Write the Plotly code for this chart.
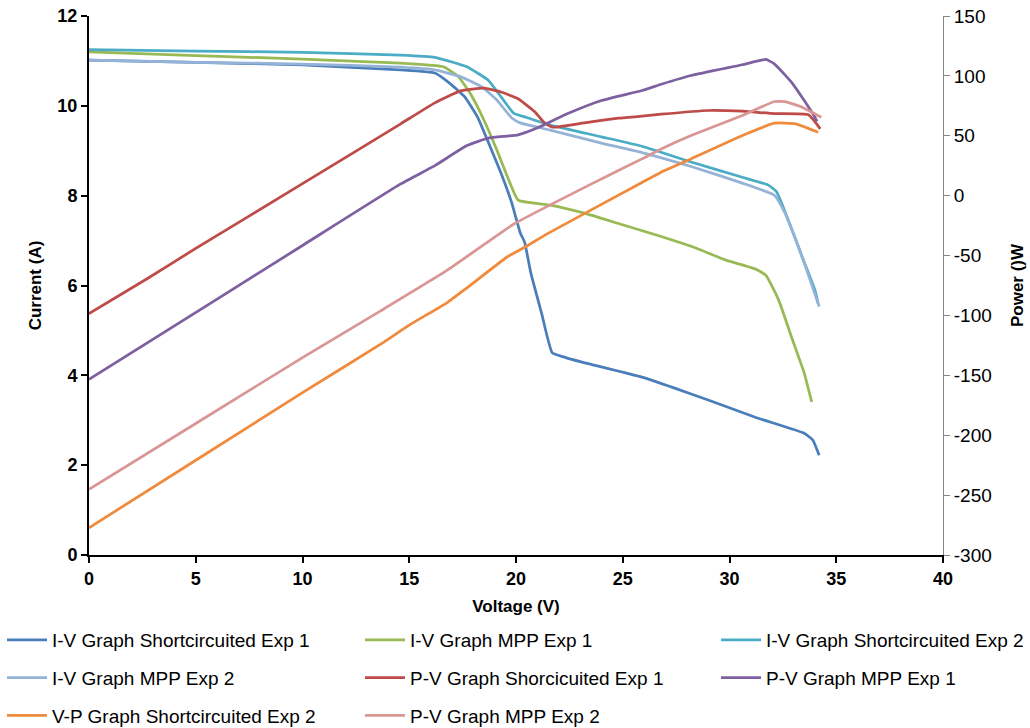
import plotly.graph_objects as go

# ---------------- data ----------------
# I-V Graph Shortcircuited Exp 1
v_iv_sc1 = [0, 5, 10, 14.6, 16.2, 16.9, 17.6, 18.2, 18.8, 19.3, 19.8, 20.2, 20.4, 20.7,
            21.2, 21.7, 22.3, 23.05, 25.9, 27.4, 29.0, 31.3, 33.5, 33.9, 34.2]
i_iv_sc1 = [11.02, 10.97, 10.91, 10.80, 10.73, 10.5, 10.2, 9.75, 9.08, 8.5, 7.84, 7.17, 6.97, 6.27,
            5.38, 4.50, 4.40, 4.30, 3.96, 3.72, 3.45, 3.05, 2.71, 2.56, 2.22]

# I-V Graph MPP Exp 1
v_iv_mpp1 = [0, 5, 10, 14.6, 16.6, 17.3, 17.9, 18.5, 19.1, 19.6, 20.1, 21.6, 23.2, 24.8,
             26.8, 28.5, 29.8, 31.2, 31.7, 32.3, 32.9, 33.5, 33.85]
i_iv_mpp1 = [11.2, 11.12, 11.04, 10.95, 10.87, 10.65, 10.24, 9.68, 9.02, 8.42, 7.90, 7.79, 7.61, 7.38,
             7.09, 6.82, 6.57, 6.37, 6.23, 5.68, 4.86, 4.05, 3.41]

# I-V Graph Shortcircuited Exp 2
v_iv_sc2 = [0, 5, 10, 14.6, 16.2, 17.7, 18.7, 19.3, 19.9, 20.5, 21.6, 24.0, 25.9, 28.2,
            30.6, 31.8, 32.2, 32.75, 33.4, 34.0, 34.15]
i_iv_sc2 = [11.25, 11.22, 11.19, 11.13, 11.08, 10.87, 10.57, 10.2, 9.83, 9.74, 9.57, 9.31, 9.10, 8.75,
            8.41, 8.24, 8.09, 7.46, 6.64, 5.9, 5.6]

# I-V Graph MPP Exp 2
v_iv_mpp2 = [0, 5, 10, 14.6, 16.2, 17.4, 18.4, 19.1, 19.8, 20.2, 21.6, 24.0, 25.9, 28.2,
             30.6, 32.1, 32.6, 33.4, 34.2]
i_iv_mpp2 = [11.02, 10.97, 10.93, 10.86, 10.8, 10.65, 10.42, 10.13, 9.73, 9.62, 9.46, 9.17, 8.96, 8.65,
             8.28, 8.01, 7.61, 6.64, 5.53]

# P-V Graph Shorcicuited Exp 1
v_pv_sc1 = [0, 2.7, 5, 10, 14.6, 16.2, 17.4, 18.5, 19.3, 20.1, 20.9, 21.3, 21.7, 23.2, 24.8,
            25.9, 26.8, 29.0, 30.6, 32.1, 33.7, 34.25]
p_pv_sc1 = [-98.5, -69.6, -44, 10, 60, 77.5, 87.5, 89.8, 86.5, 80.9, 69.7, 61.4, 57.2, 60.8, 64.7,
            66.4, 68.0, 71.1, 70.5, 68.5, 67.5, 55.8]

# P-V Graph MPP Exp 1
v_pv_mpp1 = [0, 6.0, 10, 14.6, 16.2, 17.7, 18.7, 20.1, 20.9, 22.4, 24.0, 25.9, 26.8, 28.2,
             30.6, 31.7, 32.1, 32.9, 33.5, 34.0, 34.1]
p_pv_mpp1 = [-153.3, -86.4, -41.6, 9.8, 25.1, 41.8, 48.0, 50.8, 55.8, 68.3, 79.4, 87.8, 93.0, 100.3,
             109.3, 113.7, 110.1, 94.8, 79.4, 65.5, 62]

# V-P Graph Shortcircuited Exp 2
v_pv_sc2 = [0, 5, 10, 13.66, 15.07, 16.8, 17.7, 19.6, 20.4, 21.5, 25.9, 26.8, 28.2, 30.6,
            32.1, 33.1, 34.15]
p_pv_sc2 = [-277.3, -220.9, -164.5, -124, -107.3, -89, -77, -51, -43.1, -31.5, 11, 19.6, 30.7, 50.2,
            60.5, 60, 53]

# P-V Graph MPP Exp 2
v_pv_mpp2 = [0, 5, 10, 13.66, 16.8, 19.9, 24.0, 25.9, 26.8, 28.2, 30.6, 32.1, 32.6,
             33.4, 34.3]
p_pv_mpp2 = [-245.2, -190.2, -135.2, -96.2, -62, -23.7, 14, 30.7, 39, 50.2, 66.9, 78.6, 78.6,
             73.9, 65.5]

x_ticks = [0, 5, 10, 15, 20, 25, 30, 35, 40]
y_ticks = [0, 2, 4, 6, 8, 10, 12]
y2_ticks = [-300, -250, -200, -150, -100, -50, 0, 50, 100, 150]

# ---------------- figure ----------------
FONT = "Arial, Liberation Sans, sans-serif"
series = [
    ("I-V Graph Shortcircuited Exp 1", v_iv_sc1, i_iv_sc1, "#4A7EBB", "y", "legend"),
    ("I-V Graph MPP Exp 1", v_iv_mpp1, i_iv_mpp1, "#98B954", "y", "legend2"),
    ("I-V Graph Shortcircuited Exp 2", v_iv_sc2, i_iv_sc2, "#4BACC6", "y", "legend3"),
    ("I-V Graph MPP Exp 2", v_iv_mpp2, i_iv_mpp2, "#95B3D7", "y", "legend"),
    ("P-V Graph Shorcicuited Exp 1", v_pv_sc1, p_pv_sc1, "#BE4B48", "y2", "legend2"),
    ("P-V Graph MPP Exp 1", v_pv_mpp1, p_pv_mpp1, "#7D60A0", "y2", "legend3"),
    ("V-P Graph Shortcircuited Exp 2", v_pv_sc2, p_pv_sc2, "#F08A3C", "y2", "legend"),
    ("P-V Graph MPP Exp 2", v_pv_mpp2, p_pv_mpp2, "#D99694", "y2", "legend2"),
]

fig = go.Figure()
for name, xs, ys, col, yax, leg in series:
    fig.add_trace(go.Scatter(
        x=xs, y=ys, mode="lines", name=name, yaxis=yax, legend=leg, legendgroup=name,
        line=dict(color=col, width=2.75, shape="spline", smoothing=0.4),
    ))

PL, PR = 89, 943          # plot area left / right in pixels
PW = PR - PL


def px_to_paper(px):
    return (px - PL) / PW


legend_common = dict(
    orientation="v", traceorder="grouped", tracegroupgap=10,
    font=dict(family=FONT, size=19, color="#000000"),
    bgcolor="rgba(0,0,0,0)", borderwidth=0,
    xref="paper", yref="container", xanchor="left", yanchor="top",
    itemwidth=40,
)
top_y = 1 - 621 / 728

fig.update_layout(
    width=1030, height=728,
    margin=dict(l=PL, r=1030 - PR, t=16, b=173),
    paper_bgcolor="white", plot_bgcolor="white",
    font=dict(family=FONT, color="#000000"),
    legend=dict(legend_common, x=px_to_paper(2), y=top_y),
    legend2=dict(legend_common, x=px_to_paper(360), y=top_y),
    legend3=dict(legend_common, x=px_to_paper(716), y=top_y),
    xaxis=dict(
        range=[0, 40], tickvals=x_ticks, showgrid=False, zeroline=False, automargin=False,
        showline=True, linecolor="black", linewidth=2,
        ticks="outside", ticklen=6, tickwidth=2, tickcolor="black",
        tickfont=dict(family=FONT, size=18, color="black", weight="bold"),
        title=dict(text="Voltage (V)", font=dict(family=FONT, size=17, color="black", weight="bold"),
                   standoff=13),
    ),
    yaxis=dict(
        range=[0, 12], tickvals=y_ticks, showgrid=False, zeroline=False, automargin=False,
        showline=True, linecolor="black", linewidth=2,
        ticks="outside", ticklen=6, tickwidth=2, tickcolor="black",
        tickfont=dict(family=FONT, size=18, color="black", weight="bold"),
        title=dict(text="Current (A)", font=dict(family=FONT, size=17, color="black", weight="bold"),
                   standoff=11),
    ),
    yaxis2=dict(
        range=[-300, 150], tickvals=y2_ticks, ticktext=[str(v) for v in y2_ticks],
        overlaying="y", side="right", automargin=False,
        showgrid=False, zeroline=False,
        showline=True, linecolor="#868686", linewidth=1,
        ticks="outside", ticklen=6, tickwidth=1, tickcolor="#868686",
        tickfont=dict(family=FONT, size=19, color="black"),
        title=dict(text="Power ()W", font=dict(family=FONT, size=17, color="black", weight="bold"),
                   standoff=20),
    ),
)

fig.write_html("out.html")
